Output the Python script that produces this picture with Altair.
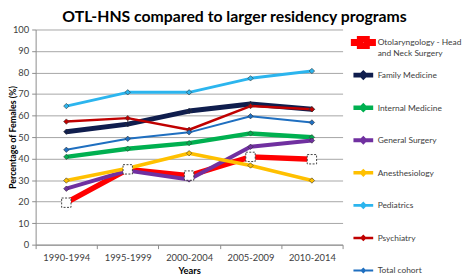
import altair as alt
import pandas as pd

periods = ["1990-1994", "1995-1999", "2000-2004", "2005-2009", "2010-2014"]
series = [
    "Otolaryngology - Head and Neck Surgery",
    "Family Medicine",
    "Internal Medicine",
    "General Surgery",
    "Anesthesiology",
    "Pediatrics",
    "Psychiatry",
    "Total cohort",
]
colors = ["#ff0000", "#0f1d4d", "#00b050", "#7030a0", "#ffc000", "#2cb5ee", "#c00000", "#1f6fc0"]

otl = [19.5, 35.0, 32.1, 40.8, 39.7]
family = [52.5, 56.0, 62.1, 65.4, 62.9]
internal = [40.8, 44.6, 47.2, 51.7, 49.9]
general = [26.0, 34.4, 30.3, 45.5, 48.4]
anesthesia = [29.8, 35.5, 42.5, 36.8, 29.8]
pediatrics = [64.4, 70.8, 70.8, 77.3, 80.7]
psychiatry = [57.2, 58.8, 53.4, 64.4, 62.9]
total = [44.1, 49.2, 52.2, 59.7, 56.8]
all_values = [otl, family, internal, general, anesthesia, pediatrics, psychiatry, total]

rows = []
for s, vals in zip(series, all_values):
    for p, v in zip(periods, vals):
        rows.append({"Years": p, "Series": s, "Pct": v})
df = pd.DataFrame(rows)
OTL = series[0]

FONT = "Lato"

x_enc = alt.X(
    "Years:N",
    sort=periods,
    bandPosition=0.5,
    scale=alt.Scale(type="band", paddingInner=0, paddingOuter=0),
    axis=alt.Axis(
        title="Years", titleFont=FONT, titleFontSize=9.5, titleFontWeight="bold", titleColor="#000000",
        titleY=26, titleBaseline="middle",
        labelFont=FONT, labelFontSize=9.5, labelColor="#404040", labelAngle=0, labelPadding=4,
        tickBand="extent", tickSize=4, tickColor="#8c8c8c", domainColor="#8c8c8c", grid=False,
    ),
)
y_enc = alt.Y(
    "Pct:Q",
    scale=alt.Scale(domain=[0, 100], nice=False),
    axis=alt.Axis(
        values=list(range(0, 101, 10)),
        title="Percentage of Females (%)", titleFont=FONT, titleFontSize=9, titleFontWeight="bold",
        titleColor="#000000", titleX=-23, titleY=109, titleBaseline="middle", titleAngle=-90,
        labelFont=FONT, labelFontSize=9.5, labelColor="#404040", labelPadding=3,
        tickSize=4, tickColor="#8c8c8c", domainColor="#8c8c8c",
        grid=True, gridColor="#a6a6a6", gridWidth=1,
    ),
)

diamond_path = "M0,-1M0,1M-1,0H1M-0.17,0L0,-0.17L0.17,0L0,0.17Z"
otl_path = ("M0,-1M0,1M-1,-0.08H-0.4V0.08H-1Z M0.4,-0.08H1V0.08H0.4Z "
            "M-0.38,-0.38H0.38V0.38H-0.38Z M-0.3,-0.3V0.3H0.3V-0.3Z")

legend = alt.Legend(
    orient="none", legendX=319, legendY=-3.2, title=None, padding=0,
    symbolType=diamond_path, symbolSize=400, symbolStrokeWidth=2,
    clipHeight=32.8, rowPadding=0,
    labelFont=FONT, labelFontSize=8.5, labelColor="#404040", labelOffset=1.5, labelLimit=200,
    labelExpr="datum.value === '" + OTL + "' ? ['Otolaryngology - Head', 'and Neck Surgery'] : [datum.label, '']",
)

color_enc = alt.Color("Series:N", scale=alt.Scale(domain=series, range=colors), legend=legend)

lines = alt.Chart(df).mark_line(strokeJoin="round").encode(
    x=x_enc,
    y=y_enc,
    color=color_enc,
    strokeWidth=alt.StrokeWidth(
        "Series:N", scale=alt.Scale(domain=series, range=[5.5] + [2] * 7), legend=None
    ),
)

points = alt.Chart(df).transform_filter(alt.datum.Series != OTL).mark_point(
    shape="diamond", filled=True, size=30, stroke="#333333", strokeWidth=0.6, opacity=1
).encode(x=x_enc, y=y_enc, color=color_enc)

otl_points = alt.Chart(df).transform_filter(alt.datum.Series == OTL).mark_point(
    shape="square", size=90, filled=True, fill="#ffffff", stroke="#404040",
    strokeDash=[2, 1.5], strokeWidth=1, opacity=1
).encode(x=x_enc, y=y_enc)

legend_shapes = alt.Chart(df).transform_filter("false").mark_point(filled=False).encode(
    x=x_enc,
    y=y_enc,
    color=color_enc,
    shape=alt.Shape(
        "Series:N",
        scale=alt.Scale(domain=series, range=[otl_path] + [diamond_path] * 7),
        legend=legend,
    ),
)

chart = alt.layer(lines, points, otl_points, legend_shapes).properties(
    width=311,
    height=218,
    autosize=alt.AutoSizeParams(type="none"),
    padding={"left": 28, "top": 20, "right": 123, "bottom": 32},
    title=alt.TitleParams(
        "OTL-HNS compared to larger residency programs",
        font=FONT, fontSize=16, fontWeight="bold", color="#000000",
        anchor="middle", dx=46, offset=0,
    ),
    background="#ffffff",
).configure_view(stroke=None)

chart.save("out.html", embed_options={"renderer": "svg", "actions": False})
